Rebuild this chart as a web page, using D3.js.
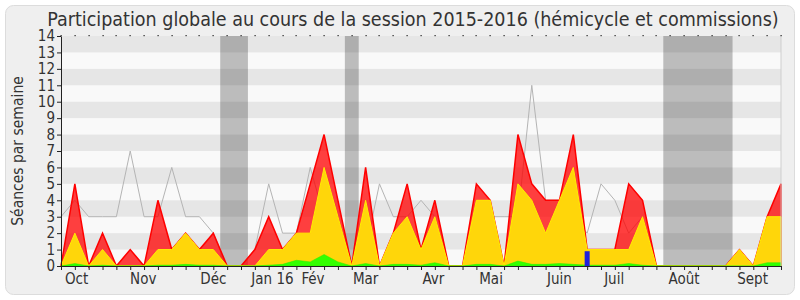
<!DOCTYPE html>
<html>
<head>
<meta charset="utf-8">
<script src="https://cdn.jsdelivr.net/npm/d3@7"></script>
<style>
  body { margin: 0; background: #fff; }
  text { font-family: "DejaVu Sans Condensed", "DejaVu Sans", sans-serif; }
</style>
</head>
<body>
<div id="chart"></div>
<script>
const width = 800
const height = 300

// weekly values, Oct 2015 -> Sept 2016 (53 weeks)
const total = [0,5,0,2,0,1,0,4,1,2,1,2,0,0,1,3,1,2,5,8,4,0,6,0,2,5,1,4,0,0,5,4,0,8,5,4,4,8,1,1,1,5,4,0,0,0,0,0,0,1,0,3,5]
const hemicycle = [0,2,0,1,0,0,0,1,1,2,1,1,0,0,0,1,1,2,2,6,3,0,4,0,2,3,1,3,0,0,4,4,0,5,4,2,4,6,1,1,1,1,3,0,0,0,0,0,0,1,0,3,3]
const interventions = [0,0.15,0,0.05,0,0,0,0.05,0.05,0.1,0.05,0.05,0,0,0,0.05,0.1,0.35,0.25,0.7,0.25,0,0.15,0,0.1,0.1,0.05,0.2,0,0,0.1,0.1,0,0.3,0.1,0.1,0.15,0.1,0.05,0.05,0.05,0.15,0.05,0,0,0,0,0,0,0,0,0.2,0.2]
const questions = [0,0,0,0,0,0,0,0,0,0,0,0,0,0,0,0,0,0,0,0,0,0,0,0,0,0,0,0,0,0,0,0,0,0,0,0,0,0,0.9,0,0,0,0,0,0,0,0,0,0,0,0,0,0]
const median = [3,4,3,3,3,7,3,3,6,3,3,2,0,0,1,5,2,2,6,3,3,0,1,5,3,3,4,3,0,0,3,3,3,3,11,4,4,3,2,5,4,2,3,0,0,0,0,0,0,0,0,1,2]

const vacances = [[12,13],[21,21],[44,48]]

const months = ["Oct","Nov","Déc","Jan 16","Fév","Mar","Avr","Mai","Juin","Juil","Août","Sept"]
const monthWeeks = [1.13,5.94,11.0,15.27,18.2,22.0,26.9,31.06,36.0,39.95,45.0,49.95]

const yTicks = d3.range(0, 15)

const margin = {top:36, right:19, bottom:34, left:61}

const svg = d3.select("#chart").append("svg")
  .attr("width", width)
  .attr("height", height)

svg.append("rect")
  .attr("x", 5.5).attr("y", 5.5)
  .attr("width", 789).attr("height", 289)
  .attr("rx", 8)
  .attr("fill", "#efefef")
  .attr("stroke", "#dcdcdc")

const x = d3.scaleLinear()
  .domain([0, total.length-1])
  .range([margin.left, width-margin.right])

const y = d3.scaleLinear()
  .domain([0, 14])
  .range([height-margin.bottom, margin.top])

/* background */

svg.append("rect")
  .attr("x", x(0)).attr("y", y(14))
  .attr("width", x(52)-x(0)).attr("height", y(0)-y(14))
  .attr("fill", "#f9f9f9")

svg.selectAll(".vac").data(vacances).join("rect")
  .attr("x", d => x(d[0]-0.5))
  .attr("width", d => x(d[1]+0.5)-x(d[0]-0.5))
  .attr("y", y(14)).attr("height", y(0)-y(14))
  .attr("fill", "#bcbcbc")

svg.selectAll(".band").data(yTicks.filter(d => d%2==1)).join("rect")
  .attr("x", x(0)).attr("width", x(52)-x(0))
  .attr("y", d => y(d+1)).attr("height", d => y(d)-y(d+1))
  .attr("fill", "#000").attr("fill-opacity", 0.075)

/* median line */

const line = d3.line().x((d,i) => x(i)).y(d => y(d))

svg.append("path")
  .attr("d", line(median))
  .attr("fill", "none")
  .attr("stroke", "#b4b4b4")
  .attr("stroke-width", 1)

/* areas */

const area = d3.area().x((d,i) => x(i)).y0(y(0)).y1(d => y(d))

svg.append("path")
  .attr("d", area(total))
  .attr("fill", "#ff0000").attr("fill-opacity", 0.75)
  .attr("stroke", "#ff0000").attr("stroke-width", 1.5)

svg.append("path")
  .attr("d", area(hemicycle))
  .attr("fill", "#ffd60a")
  .attr("stroke", "#ffee00").attr("stroke-width", 1)

svg.append("path")
  .attr("d", area(interventions))
  .attr("fill", "#33ff00")
  .attr("stroke", "#22ee00").attr("stroke-width", 0.5)

svg.selectAll(".q").data(questions.map((v,i) => [i,v]).filter(d => d[1] > 0)).join("rect")
  .attr("x", d => x(d[0]) - 2.5)
  .attr("width", 5)
  .attr("y", d => y(d[1]))
  .attr("height", d => y(0)-y(d[1]))
  .attr("fill", "#2020dd")

/* axes */

svg.append("line")
  .attr("x1", x(52)).attr("x2", x(52))
  .attr("y1", y(14)).attr("y2", y(0))
  .attr("stroke", "#cfcfcf")

const weeks = d3.range(0, 53)

svg.append("g")
  .attr("transform", `translate(0,${y(0)})`)
  .call(d3.axisBottom(x).tickValues(weeks).tickFormat("").tickSize(4).tickSizeOuter(0))
  .call(g => g.select(".domain").attr("stroke", "#222"))
  .call(g => g.selectAll(".tick line").attr("stroke", "#222"))

svg.selectAll(".topdot").data(weeks).join("rect")
  .attr("x", d => Math.round(x(d))-0.5).attr("y", y(14)-1)
  .attr("width", 1.2).attr("height", 1.2)
  .attr("fill", "#222")

svg.append("g")
  .attr("transform", `translate(${x(0)},0)`)
  .call(d3.axisLeft(y).tickValues(yTicks).tickSize(4).tickSizeOuter(0).tickPadding(2))
  .call(g => g.select(".domain").attr("stroke", "#222"))
  .call(g => g.selectAll(".tick line").attr("stroke", "#222"))
  .call(g => g.selectAll(".tick text").attr("font-size", 15).attr("fill", "#333")
    .style("font-family", "'DejaVu Sans Condensed', 'DejaVu Sans', sans-serif"))

svg.selectAll(".month").data(months).join("text")
  .attr("x", (d,i) => x(monthWeeks[i]))
  .attr("y", 284)
  .attr("text-anchor", "middle")
  .attr("font-size", 15)
  .attr("fill", "#333")
  .text(d => d)

svg.append("text")
  .attr("transform", `translate(23,${(y(0)+y(14))/2}) rotate(-90)`)
  .attr("text-anchor", "middle")
  .attr("font-size", 15.5)
  .attr("fill", "#333")
  .text("Séances par semaine")

svg.append("text")
  .attr("x", 413).attr("y", 26)
  .attr("text-anchor", "middle")
  .attr("font-size", 19.5)
  .attr("fill", "#333")
  .text("Participation globale au cours de la session 2015-2016 (hémicycle et commissions)")
</script>
</body>
</html>
